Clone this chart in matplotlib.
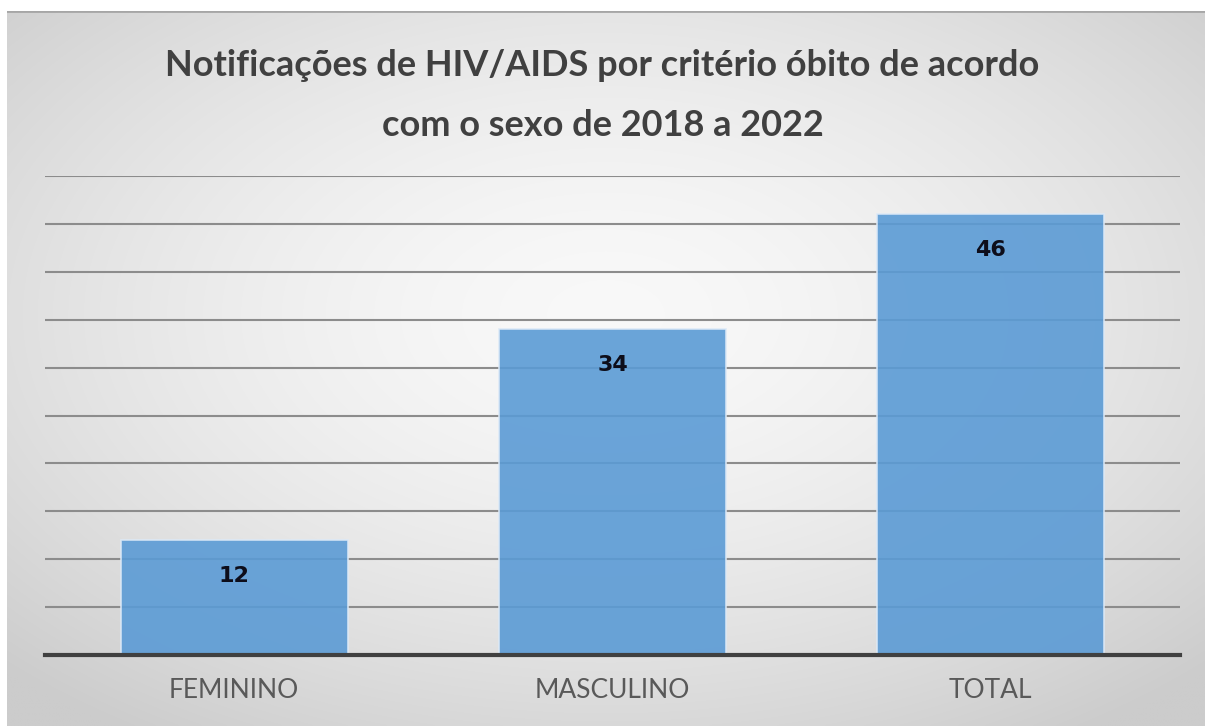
import matplotlib
matplotlib.use('Agg')
import matplotlib.pyplot as plt
import numpy as np

# dados do gráfico
categorias = ['FEMININO', 'MASCULINO', 'TOTAL']
obitos = [12, 34, 46]
titulo_l1 = 'Notificações de HIV/AIDS por critério óbito de acordo'
titulo_l2 = 'com o sexo de 2018 a 2022'

fonte = ['Lato', 'DejaVu Sans']

fig = plt.figure(figsize=(12.05, 7.26), dpi=100)
fig.patch.set_facecolor('white')

# fundo com gradiente radial (estilo Excel)
bg = fig.add_axes([7 / 1205, 0, 1 - 7 / 1205, 715 / 726])
yy, xx = np.mgrid[-1:1:300j, -1:1:500j]
r = np.sqrt(xx ** 2 + (yy + 0.15) ** 2) / np.sqrt(2)
light = np.array([0.975, 0.975, 0.975])
dark = np.array([0.80, 0.80, 0.80])
img = light + (dark - light) * (np.clip(r, 0, 1)[..., None] ** 1.6)
bg.imshow(img, aspect='auto', extent=[0, 1, 0, 1], interpolation='bilinear')
bg.axhline(1, color='#a6a6a6', lw=2)
bg.set_axis_off()

ax = fig.add_axes([45 / 1205, 71 / 726, 1135 / 1205, 479 / 726])
ax.patch.set_alpha(0)
x = np.arange(len(categorias))
bars = ax.bar(x, obitos, width=0.6, color='#5b9bd5', alpha=0.9,
              edgecolor='#dce9f7', linewidth=1.2, zorder=3)

ax.set_xlim(-0.5, len(categorias) - 0.5)
ax.set_ylim(0, 50)
ax.set_yticks(np.arange(5, 51, 5))
ax.yaxis.grid(True, color='#8c8c8c', linewidth=1.5, zorder=1)
ax.set_axisbelow(True)
ax.tick_params(axis='y', left=False, labelleft=False)
ax.tick_params(axis='x', bottom=False, pad=13)
ax.set_xticks(x)
ax.set_xticklabels(categorias, fontsize=19, color='#595959', family=fonte)
for s in ['top', 'right', 'left']:
    ax.spines[s].set_visible(False)
ax.spines['bottom'].set_color('#404040')
ax.spines['bottom'].set_linewidth(3)
ax.spines['bottom'].set_zorder(4)

for b, v in zip(bars, obitos):
    ax.annotate(str(v), (b.get_x() + b.get_width() / 2, v),
                xytext=(0, -36), textcoords='offset pixels',
                ha='center', va='center', fontsize=16, fontweight='bold',
                color='#0d0d1a', family='DejaVu Sans', zorder=5)

fig.text(0.5, 1 - 65 / 726, titulo_l1, ha='center', va='center', fontsize=26,
         fontweight='bold', color='#404040', family=fonte)
fig.text(0.5, 1 - 125 / 726, titulo_l2, ha='center', va='center', fontsize=26,
         fontweight='bold', color='#404040', family=fonte)

fig.savefig('out.png', dpi=100)
